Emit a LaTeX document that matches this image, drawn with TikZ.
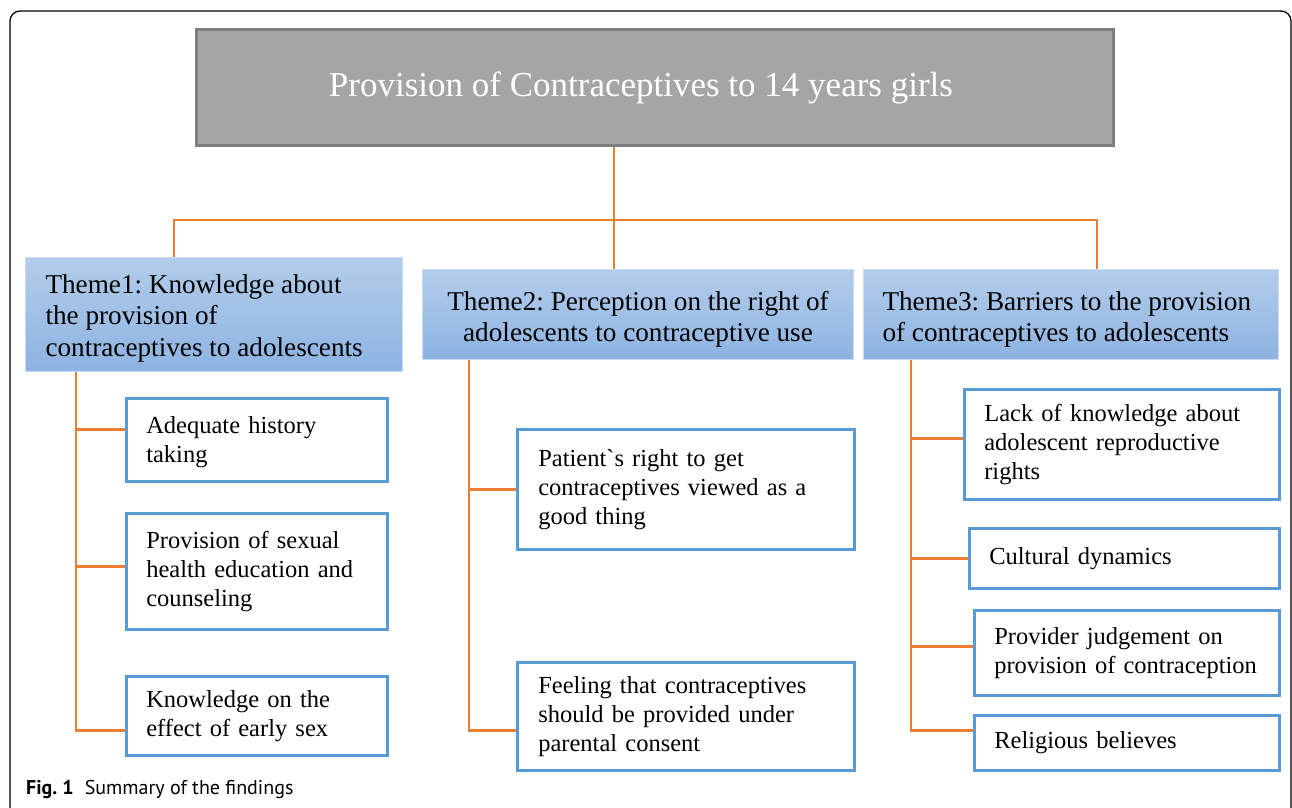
\documentclass[tikz,border=0pt]{standalone}
\usepackage{fontspec}
\setmainfont{Liberation Serif}
\newfontfamily\nomapserif{Liberation Serif}[Ligatures=TeXOff]
\newfontfamily\capfont{PT Sans}
\frenchspacing
\definecolor{orangeln}{HTML}{ED7D31}
\definecolor{bluebd}{HTML}{5B9BD5}
\definecolor{themetop}{HTML}{B3CDEB}
\definecolor{themebot}{HTML}{8DB3E2}
\definecolor{themebd}{HTML}{C9DBF0}
\definecolor{titlefill}{HTML}{A5A5A5}
\definecolor{titlebd}{HTML}{7F7F7F}
% #1 drop, #2 width, #3 alignment (l/c), #4 lines
\newcommand\themetext[4]{\raisebox{-#1}[\height][\depth]{\makebox[#2][#3]{\begin{tabular}{@{}#3@{}}#4\end{tabular}}}}
\tikzset{
  conn/.style={draw=orangeln, line width=2.5pt},
  subbox/.style={draw=bluebd, line width=2.6pt, fill=white, anchor=north west,
     inner xsep=20pt, inner ysep=0pt, align=left,
     font=\fontsize{24.5}{29}\selectfont},
  themebox/.style={draw=themebd, line width=1pt, top color=themetop, bottom color=themebot,
     anchor=north west, inner xsep=20pt, inner ysep=0pt,
     font=\fontsize{27.2}{31.5}\selectfont},
  titlebox/.style={draw=titlebd, line width=3pt, fill=titlefill, anchor=north west,
     text=white, inner sep=0pt, font=\fontsize{35}{40}\selectfont},
}
\begin{document}
\begin{tikzpicture}[x=1pt,y=-1pt]
\useasboundingbox (0,0) rectangle (1292,807);
\fill[white] (0,0) rectangle (1292,807);
% frame
\draw[black, line width=1.3pt, rounded corners=10pt] (10,820) -- (10,11) -- (1291,11) -- (1291,820);

% title
\node[titlebox, minimum width=917pt, minimum height=116pt] (title) at (195,28)
  {\hspace*{-28pt}\raisebox{1pt}{Provision of Contraceptives to 14 years girls}};

% themes
\node[themebox, minimum width=377pt, minimum height=114pt] (theme1) at (25,257)
  {\themetext{4pt}{337pt}{l}{Theme1: Knowledge about\\the provision of\\contraceptives to adolescents}};
\node[themebox, minimum width=431pt, minimum height=90pt, inner xsep=10pt] (theme2) at (422,269)
  {\themetext{5pt}{411pt}{c}{Theme2: Perception on the right of\\adolescents to contraceptive use}};
\node[themebox, minimum width=415pt, minimum height=90pt, inner xsep=19pt] (theme3) at (863,269)
  {\themetext{5pt}{377pt}{l}{Theme3: Barriers to the provision\\of contraceptives to adolescents}};

% connectors top
\coordinate (hubL) at (174,220);
\coordinate (hubM) at (614,220);
\coordinate (hubR) at (1097,220);
\draw[conn] (hubM |- title.south) -- (hubM |- theme2.north);
\draw[conn] (hubL |- theme1.north) -- (hubL) -- (hubR) -- (hubR |- theme3.north);

% theme1 subs
\node[subbox, minimum width=261pt, minimum height=83pt, text width=221pt] (a1) at (125,397)
  {\raisebox{-2pt}[\height][\depth]{\parbox{221pt}{Adequate history\\taking}}};
\node[subbox, minimum width=261pt, minimum height=116pt, text width=221pt] (a2) at (125,512)
  {Provision of sexual\\health education and\\counseling};
\node[subbox, minimum width=261pt, minimum height=79pt, text width=221pt] (a3) at (125,675)
  {Knowledge on the\\effect of early sex};
\coordinate (sp1) at (76,0);
\coordinate (a1p) at ([yshift=10.5pt]a1.west);
\coordinate (a2p) at ([yshift=5pt]a2.west);
\coordinate (a3p) at ([yshift=-14.5pt]a3.west);
\draw[conn] (sp1 |- theme1.south) -- (sp1 |- a3p) -- (a3p);
\draw[conn] (sp1 |- a1p) -- (a1p);
\draw[conn] (sp1 |- a2p) -- (a2p);

% theme2 subs
\node[subbox, minimum width=337pt, minimum height=120pt, text width=295pt, inner xsep=21pt] (b1) at (516,428)
  {Patient{\nomapserif\char"0060}s right to get\\contraceptives viewed as a\\good thing};
\node[subbox, minimum width=337pt, minimum height=108pt, text width=295pt, inner xsep=21pt] (b2) at (516,661)
  {Feeling that contraceptives\\should be provided under\\parental consent};
\coordinate (sp2) at (469,0);
\coordinate (b2p) at ([yshift=-14pt]b2.west);
\draw[conn] (sp2 |- theme2.south) -- (sp2 |- b2p) -- (b2p);
\draw[conn] (sp2 |- b1.west) -- (b1.west);

% theme3 subs
\node[subbox, minimum width=315pt, minimum height=110pt, text width=275pt] (c1) at (963,388)
  {Lack of knowledge about\\adolescent reproductive\\rights};
\node[subbox, minimum width=310pt, minimum height=60pt, text width=270pt] (c2) at (968,527)
  {Cultural dynamics};
\node[subbox, minimum width=305pt, minimum height=85pt, text width=265pt] (c3) at (973,609)
  {Provider judgement on\\provision of contraception};
\node[subbox, minimum width=305pt, minimum height=55pt, text width=265pt] (c4) at (973,714)
  {Religious believes};
\coordinate (sp3) at (911,0);
\coordinate (c1p) at ([yshift=6pt]c1.west);
\coordinate (c3p) at ([yshift=6.5pt]c3.west);
\coordinate (c4p) at ([yshift=12.5pt]c4.west);
\draw[conn] (sp3 |- theme3.south) -- (sp3 |- c4p) -- (c4p);
\draw[conn] (sp3 |- c1p) -- (c1p);
\draw[conn] (sp3 |- c2.west) -- (c2.west);
\draw[conn] (sp3 |- c3p) -- (c3p);

% caption
\node[anchor=west, inner sep=0pt, font=\capfont\fontsize{20}{24}\selectfont] (cap) at (26,789)
  {\textbf{Fig. 1}\hspace{0.55em}Summary of the findings};
\end{tikzpicture}
\end{document}
